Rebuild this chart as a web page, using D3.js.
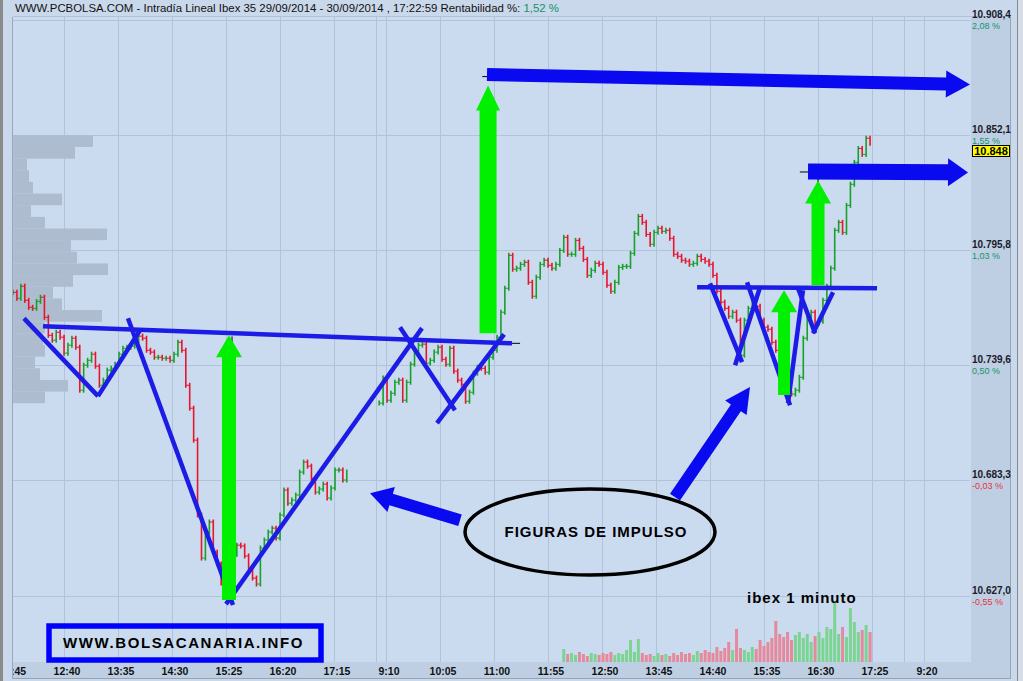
<!DOCTYPE html>
<html>
<head>
<meta charset="utf-8">
<script src="https://cdn.jsdelivr.net/npm/d3@7/dist/d3.min.js"></script>
<style>
  body { margin: 0; background: #c9d8ea; }
  svg { display: block; font-family: "Liberation Sans", Arial, sans-serif; }
</style>
</head>
<body>
<svg id="chart" width="1023" height="681"></svg>
<script>
/**
 * Data (time t = minutes since 9:00 of day 1, each session 538 slots long)
 */
var day1Start = 165, day2Start = 538, stepMin = 4;

var day1Close = [
  10775.2, 10772.3, 10778.2, 10771.3, 10767.9, 10767.4, 10770.8, 10772.8, 10763.0, 10754.2,
  10751.8, 10755.7, 10753.3, 10745.5, 10749.4, 10752.8, 10748.4, 10727.4, 10739.6, 10742.0,
  10745.0, 10739.1, 10729.8, 10732.3, 10737.2, 10738.1, 10740.1, 10745.0, 10747.9, 10748.4,
  10748.9, 10751.8, 10753.8, 10752.8, 10746.9, 10746.0, 10743.5, 10743.5, 10743.0, 10743.0,
  10742.0, 10745.0, 10750.8, 10746.9, 10729.8, 10718.6, 10703.0, 10666.4, 10645.4, 10658.1,
  10663.0, 10648.3, 10642.5, 10633.2, 10631.2, 10640.5, 10647.3, 10651.7, 10651.3, 10646.4,
  10639.5, 10635.6, 10632.7, 10650.3, 10654.2, 10658.1, 10660.0, 10655.2, 10666.4, 10678.6,
  10672.2, 10673.7, 10676.2, 10687.4, 10692.3, 10690.3, 10684.4, 10677.6, 10679.1, 10681.5,
  10674.7, 10679.6, 10688.4, 10688.4, 10683.5, 10687.4
];

var day2Close = [
  10721.1, 10733.3, 10722.5, 10725.9, 10731.3, 10732.3, 10722.5, 10731.3, 10740.1, 10746.4,
  10749.4, 10749.9, 10740.6, 10742.0, 10746.0, 10748.4, 10742.5, 10740.1, 10747.9, 10736.7,
  10732.3, 10730.3, 10722.0, 10726.4, 10735.7, 10738.6, 10738.1, 10736.2, 10743.5, 10746.9,
  10753.3, 10765.5, 10777.2, 10793.3, 10786.5, 10787.0, 10788.9, 10789.9, 10780.1, 10773.3,
  10782.6, 10788.9, 10790.9, 10788.4, 10787.0, 10788.9, 10795.7, 10802.1, 10793.8, 10793.8,
  10800.6, 10796.7, 10791.3, 10783.5, 10786.0, 10789.4, 10788.9, 10785.0, 10778.7, 10775.7,
  10780.1, 10787.4, 10787.9, 10787.9, 10794.3, 10804.0, 10812.3, 10809.4, 10803.5, 10798.7,
  10804.5, 10806.5, 10805.0, 10805.5, 10801.6, 10793.8, 10792.8, 10790.9, 10790.4, 10788.9,
  10789.4, 10792.8, 10791.3, 10790.4, 10788.9, 10783.5, 10775.7, 10770.4, 10767.4, 10763.5,
  10765.5, 10761.6, 10744.5, 10761.6, 10767.4, 10770.8, 10768.4, 10761.6, 10758.2, 10757.2,
  10750.8, 10746.9, 10743.5, 10733.3, 10725.9, 10725.5, 10727.4, 10733.7, 10752.8, 10763.5,
  10765.5, 10760.1, 10761.1, 10771.3, 10778.2, 10787.0, 10805.5, 10809.4, 10804.5, 10817.7,
  10828.0, 10838.7, 10845.5, 10842.6, 10850.5, 10848.0
];

// volume bars, aligned with day2Close from this index on
var volStartIndex = 47;
var volume = [
  130, 80, 90, 70, 100, 80, 60, 90, 80, 70,
  90, 80, 100, 70, 90, 80, 120, 220, 100, 230,
  90, 70, 80, 60, 90, 70, 80, 60, 90, 70,
  100, 80, 90, 70, 110, 90, 120, 100, 90, 150,
  110, 140, 200, 120, 330, 140, 120, 100, 150, 130,
  220, 160, 200, 240, 410, 280, 250, 300, 220, 270,
  300, 240, 280, 200, 260, 300, 240, 350, 330, 600,
  280, 350, 250, 540, 400, 300, 320, 370, 300
];

// volume-at-price profile (left side)
var profileTop = 10851.9, profileBin = 5.69;
var profileVol = [80, 62, 14, 16, 20, 49, 18, 32, 94, 58, 64, 95, 60, 40, 49, 89, 32, 30, 32, 22, 27, 55, 32];

var priceTicks = [10908.4, 10852.1, 10795.8, 10739.6, 10683.3, 10627.0];
var pctLabels = ["2,08 %", "1,55 %", "1,03 %", "0,50 %", "-0,03 %", "-0,55 %"];
var timeTicks = [165, 220, 275, 330, 385, 440, 495, 548, 603, 658, 713, 768, 823, 878, 933, 988, 1043, 1096];
var timeLabels = ["11:45", "12:40", "13:35", "14:30", "15:25", "16:20", "17:15", "9:10", "10:05",
  "11:00", "11:55", "12:50", "13:45", "14:40", "15:35", "16:30", "17:25", "9:20"];
var dayBreaks = [538, 1076];
var lastPrice = 10848;

// hand drawn annotations [t1, p1, t2, p2]
var blueLines = [
  [195.6, 10758.6, 673.3, 10750.3],
  [176.2, 10762.5, 251.6, 10724.5],
  [251.6, 10724.5, 294.4, 10756.7],
  [282.1, 10762.5, 389.1, 10622.5],
  [382.0, 10622.9, 581.6, 10757.7],
  [559.2, 10758.2, 615.2, 10717.6],
  [596.9, 10711.3, 665.2, 10754.7],
  [861.8, 10777.7, 1045.1, 10777.2],
  [875.0, 10779.6, 907.6, 10741.1],
  [900.5, 10739.6, 925.9, 10777.7],
  [912.7, 10780.1, 956.5, 10720.1],
  [954.4, 10721.1, 969.7, 10776.2],
  [964.6, 10777.2, 982.0, 10755.2],
  [979.9, 10755.2, 1000.3, 10775.2]
];
var greenArrows = [
  [385.0, 10624.9, 385.0, 10754.2],
  [648.9, 10755.2, 648.9, 10876.3],
  [950.4, 10725.0, 950.4, 10776.2],
  [985.0, 10778.7, 985.0, 10829.9]
];
var blueArrows = [
  [647.8, 10881.6, 1139.8, 10876.8],
  [974.8, 10834.3, 1137.8, 10833.8],
  [620.3, 10663.9, 528.7, 10677.1],
  [839.3, 10675.2, 915.7, 10728.9]
];
var markers = [
  [673.3, 10750.3, 681.5, 10750.3],
  [388.1, 10753.7, 388.1, 10750.8],
  [966.5, 10834.0, 974.8, 10834.0],
  [985.0, 10831.5, 985.0, 10828.0],
  [643.0, 10880.6, 648.0, 10880.6]
];

/**
 * Settings
 */
var plot = {left: 13, top: 17, right: 970, bottom: 662};
var green = "#18a028", red = "#e8142c";

var x = d3.scaleLinear().domain([165, 1096]).range([13, 927]);
var y = d3.scaleLinear().domain([10627.0, 10908.4]).range([595.7, 19.7]);
var yVol = d3.scaleLinear().domain([0, 600]).range([plot.bottom, plot.bottom - 60]);
var xProf = d3.scaleLinear().domain([0, 100]).range([plot.left, plot.left + 100]);

var locale = d3.formatLocale({decimal: ",", thousands: ".", grouping: [3], currency: ["", ""]});
var fmt = locale.format(",.1f");

var svg = d3.select("#chart");

// frame + backgrounds
svg.append("rect").attr("width", 1023).attr("height", 681).attr("fill", "#c9d8ea");
svg.append("rect").attr("x", 0).attr("y", 0).attr("width", 3).attr("height", 681).attr("fill", "#8a8a8a");
svg.append("rect").attr("x", plot.left).attr("y", plot.top)
  .attr("width", 1010 - plot.left).attr("height", plot.bottom - plot.top).attr("fill", "#cadbf0");
svg.append("rect").attr("x", plot.right + 1).attr("y", plot.top)
  .attr("width", 1010 - plot.right - 1).attr("height", plot.bottom - plot.top).attr("fill", "#bfcfe3");
svg.append("rect").attr("x", plot.left).attr("y", plot.bottom)
  .attr("width", 1010 - plot.left).attr("height", 16).attr("fill", "#bfcfe3");
svg.append("line").attr("x1", plot.left).attr("x2", 1010).attr("y1", 678.5).attr("y2", 678.5)
  .attr("stroke", "#98a4b4");
svg.append("line").attr("x1", 1010.5).attr("x2", 1010.5).attr("y1", plot.top).attr("y2", 679)
  .attr("stroke", "#98a4b4");
svg.append("line").attr("x1", 1017.5).attr("x2", 1017.5).attr("y1", 0).attr("y2", 681)
  .attr("stroke", "#7f8a98");
svg.append("rect").attr("x", 1018).attr("y", 0).attr("width", 5).attr("height", 681).attr("fill", "#d6dde6");
svg.append("line").attr("x1", plot.left - 0.5).attr("x2", plot.left - 0.5).attr("y1", plot.top).attr("y2", 679)
  .attr("stroke", "#9aa8ba");
svg.append("line").attr("x1", plot.left).attr("x2", 1010).attr("y1", plot.top - 0.5).attr("y2", plot.top - 0.5)
  .attr("stroke", "#b0c0d6");

svg.append("clipPath").attr("id", "plotclip").append("rect")
  .attr("x", plot.left).attr("y", plot.top).attr("width", plot.right - plot.left).attr("height", plot.bottom - plot.top);
svg.append("clipPath").attr("id", "axisclip").append("rect")
  .attr("x", plot.left).attr("y", plot.bottom).attr("width", 1010 - plot.left).attr("height", 20);

var g = svg.append("g").attr("clip-path", "url(#plotclip)");

// grid
g.selectAll(".hgrid").data(priceTicks).enter().append("line")
  .attr("x1", plot.left).attr("x2", plot.right)
  .attr("y1", function (d) { return Math.round(y(d)) + 0.5; })
  .attr("y2", function (d) { return Math.round(y(d)) + 0.5; })
  .attr("stroke", "#b2c2d8");
g.selectAll(".vgrid").data(timeTicks.concat(dayBreaks)).enter().append("line")
  .attr("x1", function (d) { return Math.round(x(d)) - 2.5; })
  .attr("x2", function (d) { return Math.round(x(d)) - 2.5; })
  .attr("y1", plot.top).attr("y2", plot.bottom)
  .attr("stroke", "#b2c2d8");

// volume profile
g.selectAll(".prof").data(profileVol).enter().append("rect")
  .attr("x", plot.left)
  .attr("y", function (d, i) { return y(profileTop - i * profileBin); })
  .attr("width", function (d) { return xProf(d) - plot.left; })
  .attr("height", function (d, i) { return y(profileTop - (i + 1) * profileBin) - y(profileTop - i * profileBin); })
  .attr("fill", "#adbccf");

// volume bars
volume.forEach(function (v, k) {
  var i = volStartIndex + k;
  var up = day2Close[i] >= day2Close[i - 1];
  g.append("rect")
    .attr("x", x(day2Start + i * stepMin) - 1.5)
    .attr("y", yVol(v))
    .attr("width", 3)
    .attr("height", plot.bottom - yVol(v))
    .attr("fill", up ? "#7cd492" : "#e48a9c");
});

// price bars: step from previous close plus a vertical bar per period
function drawSeries(series, start) {
  series.forEach(function (v, i) {
    var prev = i ? series[i - 1] : v;
    var xp = x(start + (i ? i - 1 : 0) * stepMin), xc = x(start + i * stepMin);
    var y0 = y(prev), y1 = y(v);
    var col = v >= prev ? green : red;
    g.append("line")
      .attr("x1", xp).attr("x2", xc).attr("y1", y0).attr("y2", y0)
      .attr("stroke", col).attr("stroke-width", 1);
    g.append("line")
      .attr("x1", xc).attr("x2", xc)
      .attr("y1", Math.min(y0, y1) - 2.5).attr("y2", Math.max(y0, y1) + 2.5)
      .attr("stroke", col)
      .attr("stroke-width", 1.6);
  });
}
drawSeries(day1Close, day1Start);
drawSeries(day2Close, day2Start);

// annotations: blue lines
g.selectAll(".bl").data(blueLines).enter().append("line")
  .attr("x1", function (d) { return x(d[0]); }).attr("y1", function (d) { return y(d[1]); })
  .attr("x2", function (d) { return x(d[2]); }).attr("y2", function (d) { return y(d[3]); })
  .attr("stroke", "#1c1ce6").attr("stroke-width", 4.5);

g.selectAll(".mk").data(markers).enter().append("line")
  .attr("x1", function (d) { return x(d[0]); }).attr("y1", function (d) { return y(d[1]); })
  .attr("x2", function (d) { return x(d[2]); }).attr("y2", function (d) { return y(d[3]); })
  .attr("stroke", "#000").attr("stroke-width", 1);

function arrowPath(d, w, hw, hl) {
  var x0 = x(d[0]), y0 = y(d[1]), x1 = x(d[2]), y1 = y(d[3]);
  var len = Math.hypot(x1 - x0, y1 - y0), ux = (x1 - x0) / len, uy = (y1 - y0) / len;
  var nx = -uy, ny = ux, bx = x1 - ux * hl, by = y1 - uy * hl;
  var p = [
    [x0 + nx * w / 2, y0 + ny * w / 2], [bx + nx * w / 2, by + ny * w / 2],
    [bx + nx * hw / 2, by + ny * hw / 2], [x1, y1],
    [bx - nx * hw / 2, by - ny * hw / 2], [bx - nx * w / 2, by - ny * w / 2],
    [x0 - nx * w / 2, y0 - ny * w / 2]
  ];
  return "M" + p.map(function (q) { return q.join(","); }).join("L") + "Z";
}

var greenStyle = [[14, 26, 22], [17, 24, 25], [12, 26, 22], [13, 26, 23]];
greenArrows.forEach(function (d, i) {
  var s = greenStyle[i];
  g.append("path").attr("d", arrowPath(d, s[0], s[1], s[2])).attr("fill", "#00f000");
});
var blueStyle = [[13, 27, 24], [16, 28, 20], [12, 26, 22], [12, 26, 25]];
svg.append("g").selectAll("path").data(blueArrows).enter().append("path")
  .attr("d", function (d, i) { var s = blueStyle[i]; return arrowPath(d, s[0], s[1], s[2]); })
  .attr("fill", "#0a0af0");

// ellipse + texts
svg.append("ellipse").attr("cx", 590).attr("cy", 532).attr("rx", 125).attr("ry", 43)
  .attr("fill", "none").attr("stroke", "#000").attr("stroke-width", 3.5);
svg.append("text").attr("x", 596).attr("y", 537).attr("text-anchor", "middle")
  .attr("font-size", 15).attr("font-weight", "bold").attr("letter-spacing", 1)
  .text("FIGURAS DE IMPULSO");
svg.append("rect").attr("x", 49).attr("y", 626).attr("width", 272).attr("height", 34)
  .attr("fill", "none").attr("stroke", "#0000ff").attr("stroke-width", 5.5);
svg.append("text").attr("x", 63).attr("y", 648)
  .attr("font-size", 15).attr("font-weight", "bold").attr("letter-spacing", 1.6)
  .text("WWW.BOLSACANARIA.INFO");
svg.append("text").attr("x", 747).attr("y", 603)
  .attr("font-size", 15).attr("font-weight", "bold").attr("letter-spacing", 1)
  .text("ibex 1 minuto");

// header
var head = svg.append("text").attr("x", 15).attr("y", 12).attr("font-size", 11.4).attr("fill", "#111");
head.append("tspan").text("WWW.PCBOLSA.COM - Intradía Lineal Ibex 35 29/09/2014 - 30/09/2014 , 17:22:59 Rentabilidad %: ");
head.append("tspan").attr("fill", "#14936a").text("1,52 %");

// right axis
var ra = svg.append("g");
ra.selectAll(".pv").data(priceTicks).enter().append("text")
  .attr("x", 972).attr("y", function (d) { return y(d) - 2; })
  .attr("font-size", 10).attr("font-weight", "bold").attr("fill", "#1a1a2a")
  .text(function (d) { return fmt(d); });
ra.selectAll(".pp").data(pctLabels).enter().append("text")
  .attr("x", 972).attr("y", function (d, i) { return y(priceTicks[i]) + 9; })
  .attr("font-size", 9)
  .attr("fill", function (d) { return d.charAt(0) === "-" ? "#e8303c" : "#14936a"; })
  .text(function (d) { return d; });
ra.append("rect").attr("x", 972.5).attr("y", Math.round(y(lastPrice)) + 2.5).attr("width", 37).attr("height", 11)
  .attr("fill", "#ffff00").attr("stroke", "#000");
ra.append("text").attr("x", 991).attr("y", Math.round(y(lastPrice)) + 12).attr("text-anchor", "middle")
  .attr("font-size", 11).attr("font-weight", "bold").text(locale.format(",.0f")(lastPrice).replace(",", "."));

// bottom axis
svg.append("g").attr("clip-path", "url(#axisclip)")
  .selectAll("text").data(timeTicks).enter().append("text")
  .attr("x", function (d) { return x(d); }).attr("y", 675)
  .attr("text-anchor", "middle").attr("font-size", 10.5).attr("font-weight", "bold").attr("fill", "#111")
  .text(function (d, i) { return timeLabels[i]; });
</script>
</body>
</html>
